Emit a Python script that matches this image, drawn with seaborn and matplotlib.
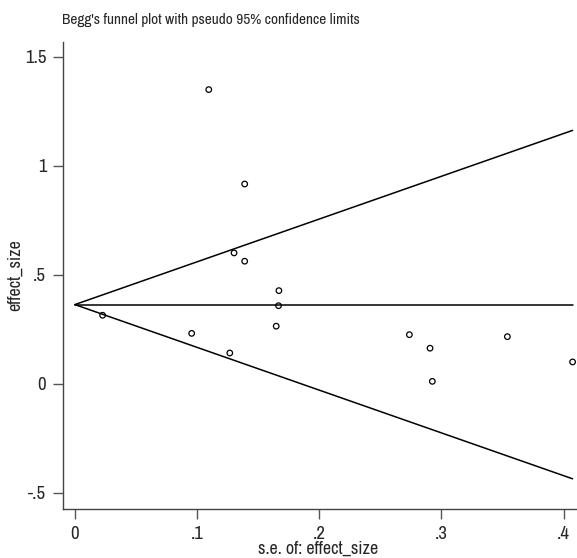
import matplotlib
matplotlib.use("Agg")
import matplotlib.pyplot as plt
from matplotlib import font_manager
import pandas as pd
import seaborn as sns

# study-level standard errors and effect sizes
se = [0.0227, 0.0956, 0.1268, 0.1670, 0.1667, 0.1648, 0.2738, 0.2907,
      0.3540, 0.4074, 0.2926, 0.1096, 0.1390, 0.1303, 0.1390]
effect = [0.315, 0.232, 0.142, 0.428, 0.359, 0.265, 0.226, 0.164,
          0.217, 0.101, 0.012, 1.350, 0.917, 0.601, 0.563]

# pseudo 95% limits and pooled estimate (endpoints at se = 0 and max se)
limit_se = [0.0, 0.4074]
pooled = [0.364, 0.364]
upper = [0.364, 1.163]
lower = [0.364, -0.435]

xticks = [0, 0.1, 0.2, 0.3, 0.4]
xtick_labels = ["0", ".1", ".2", ".3", ".4"]
yticks = [-0.5, 0, 0.5, 1, 1.5]
ytick_labels = ["-.5", "0", ".5", "1", "1.5"]

sns.set_style("white")

# look for a narrow sans font (Stata graphs use a condensed Arial look)
narrow = None
for f in font_manager.fontManager.ttflist:
    name = f.name.lower()
    if ("narrow" in name or "condensed" in name) and "mono" not in name and "serif" not in name.replace("sans", ""):
        narrow = f.name
        break
families = ([narrow] if narrow else []) + ["Liberation Sans", "DejaVu Sans"]
plt.rcParams["font.family"] = families
scale = 1.0 if narrow else 0.85

fig = plt.figure(figsize=(5.77, 5.58), dpi=100)
ax = fig.add_axes([0.109, 0.088, 0.891, 0.837])

lines = pd.DataFrame({"se": limit_se, "pooled": pooled, "upper": upper, "lower": lower})
for col in ["pooled", "upper", "lower"]:
    sns.lineplot(data=lines, x="se", y=col, color="black", linewidth=1.1, ax=ax)

pts = pd.DataFrame({"se": se, "effect": effect})
sns.scatterplot(data=pts, x="se", y="effect", marker="o", s=16,
                facecolor="none", edgecolor="black", linewidth=0.9, ax=ax)

ax.set_xlim(-0.0098, 0.411)
ax.set_ylim(-0.573, 1.569)
ax.set_xticks(xticks)
ax.set_xticklabels(xtick_labels)
ax.set_yticks(yticks)
ax.set_yticklabels(ytick_labels)
ax.tick_params(axis="both", direction="out", length=7, width=1.0, color="#555555",
               labelsize=13.5 * scale, pad=5, left=True, bottom=True)

for side in ["top", "right"]:
    ax.spines[side].set_visible(False)
for side in ["left", "bottom"]:
    ax.spines[side].set_color("#444444")
    ax.spines[side].set_linewidth(1.0)

ax.set_xlabel("s.e. of: effect_size", fontsize=13 * scale, va="center")
ax.xaxis.set_label_coords(0.496, -0.086)
ax.set_ylabel("effect_size", fontsize=13 * scale, va="center")
ax.yaxis.set_label_coords(-0.093, 0.5)
fig.text(0.108, 0.965, "Begg's funnel plot with pseudo 95% confidence limits",
         fontsize=11 * scale, ha="left", va="center")

fig.savefig("out.png", dpi=100)
